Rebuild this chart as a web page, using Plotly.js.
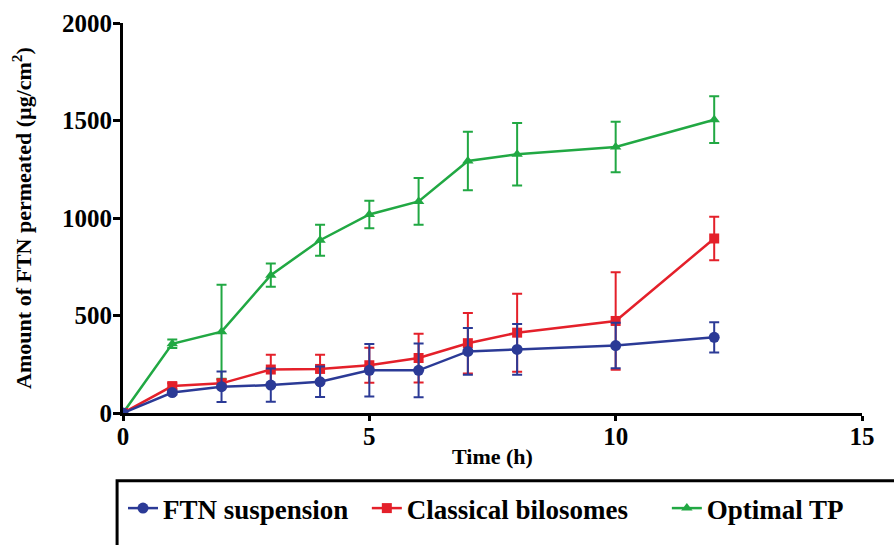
<!DOCTYPE html>
<html>
<head>
<meta charset="utf-8">
<script src="https://cdn.plot.ly/plotly-3.0.1.min.js"></script>
<style>html,body{margin:0;padding:0;background:#fff;}#chart{width:894px;height:545px;}</style>
</head>
<body>
<div id="chart"></div>
<script>
// Time points (h)
const time = [0, 1, 2, 3, 4, 5, 6, 7, 8, 10, 12];

// FTN suspension
const suspension = [0, 105, 135, 143, 160, 219, 219, 316, 326, 346, 388];
const suspensionErr = [0, 10, 78, 85, 78, 135, 138, 120, 130, 117, 78];

// Classical bilosomes
const bilosomes = [0, 138, 152, 223, 226, 245, 282, 358, 412, 472, 895];
const bilosomesErr = [0, 15, 20, 76, 73, 90, 125, 155, 200, 250, 112];

// Optimal TP
const optimal = [0, 355, 417, 707, 886, 1018, 1085, 1292, 1327, 1364, 1504];
const optimalErr = [0, 22, 241, 60, 80, 70, 120, 150, 160, 130, 120];

const xTicks = [0, 5, 10, 15];
const yTicks = [0, 500, 1000, 1500, 2000];

const names = ["FTN suspension\u00A0\u00A0", "Classical bilosomes\u00A0\u00A0\u00A0\u00A0\u00A0", "Optimal TP"];
const colors = ["#2B3A96", "#E4202A", "#21A843"];

const FONT = "Liberation Serif";

function trace(y, err, name, color, symbol, size) {
  return {
    x: time, y: y, name: name, type: "scatter", mode: "lines+markers",
    line: {color: color, width: 2.5},
    marker: {color: color, symbol: symbol, size: size},
    error_y: {type: "data", array: err, visible: true, color: color, thickness: 2, width: 5}
  };
}

const data = [
  trace(optimal, optimalErr, names[2], colors[2], "triangle-up", 10),
  trace(bilosomes, bilosomesErr, names[1], colors[1], "square", 10),
  trace(suspension, suspensionErr, names[0], colors[0], "circle", 11)
];

const layout = {
  width: 894, height: 545,
  margin: {l: 123, r: 32, t: 23, b: 126},
  paper_bgcolor: "#fff", plot_bgcolor: "#fff",
  font: {family: FONT, color: "#000"},
  showlegend: true,
  legend: {
    orientation: "h", traceorder: "reversed",
    x: 0.0, xanchor: "left", y: -0.245, yanchor: "middle",
    font: {family: FONT, size: 27, color: "#000", weight: "bold"},
    bgcolor: "rgba(0,0,0,0)"
  },
  xaxis: {
    range: [0, 15], tickvals: xTicks, ticktext: xTicks.map(String),
    showgrid: false, zeroline: false, showline: true, linecolor: "#000", linewidth: 3,
    ticks: "outside", ticklen: 5, tickwidth: 3, tickcolor: "#000",
    ticklabelstandoff: -6,
    tickfont: {family: FONT, size: 25, color: "#000", weight: "bold"},
    title: {text: "Time (h)", font: {family: FONT, size: 22, color: "#000", weight: "bold"}, standoff: 0},
    automargin: false
  },
  yaxis: {
    range: [0, 2000], tickvals: yTicks, ticktext: yTicks.map(String),
    showgrid: false, zeroline: false, showline: true, linecolor: "#000", linewidth: 3,
    ticks: "outside", ticklen: 7, tickwidth: 3, tickcolor: "#000",
    ticklabelstandoff: -4,
    tickfont: {family: FONT, size: 25, color: "#000", weight: "bold"},
    title: {text: "Amount of FTN permeated (µg/cm<sup>2</sup>)", font: {family: FONT, size: 22, color: "#000", weight: "bold"}, standoff: 25},
    automargin: false
  },
  shapes: [{
    type: "rect", xref: "paper", yref: "paper",
    x0: -0.008, x1: 1.2, y0: -0.174, y1: -0.40,
    line: {color: "#000", width: 3}, fillcolor: "rgba(0,0,0,0)"
  }]
};

Plotly.newPlot("chart", data, layout, {displayModeBar: false, staticPlot: true});
</script>
</body>
</html>
